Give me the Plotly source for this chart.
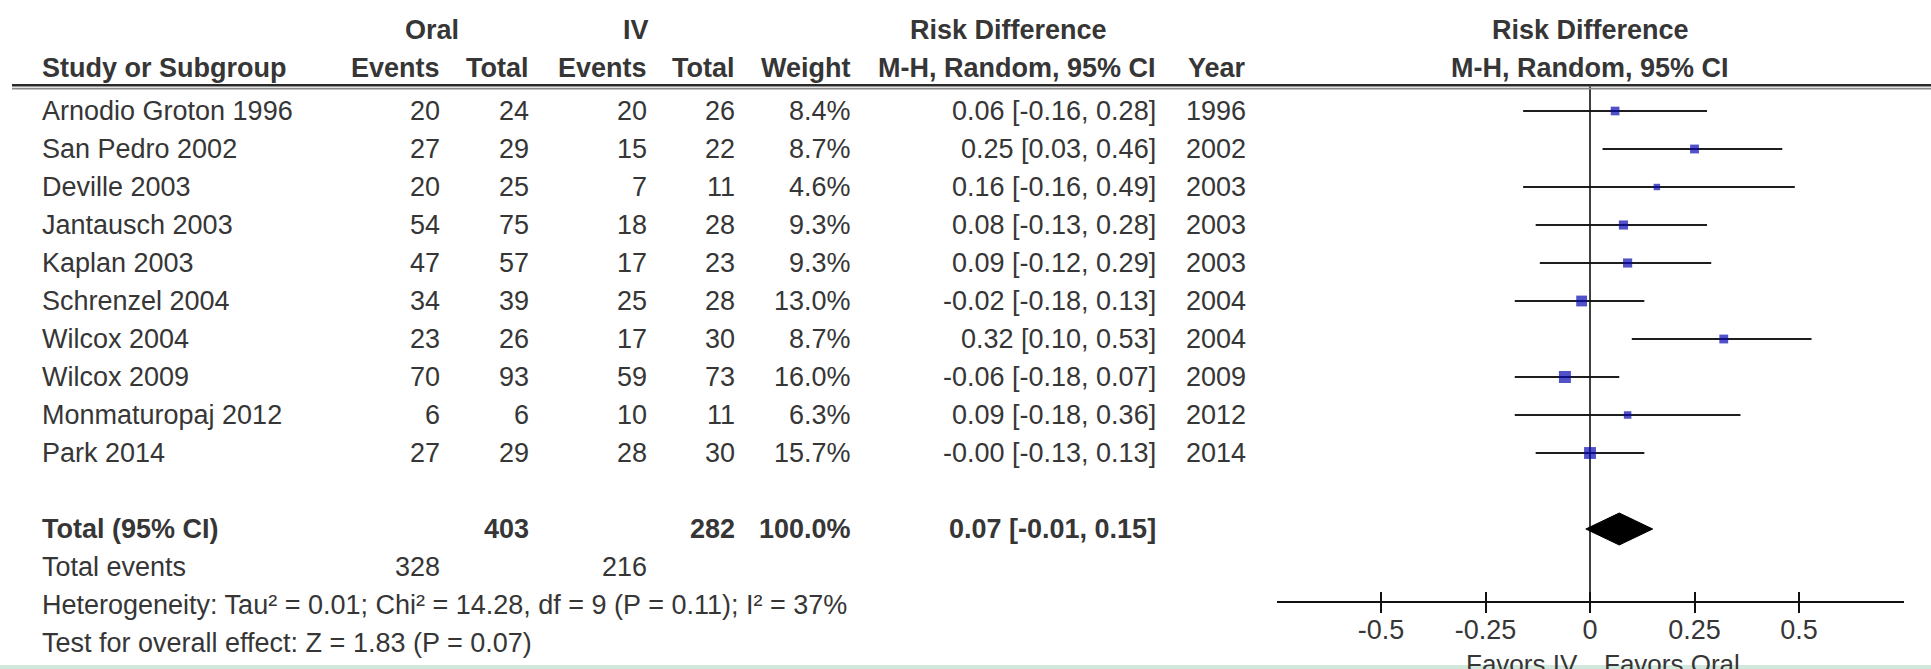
import plotly.graph_objects as go

# ---- study data -------------------------------------------------------------
studies = ["Arnodio Groton 1996", "San Pedro 2002", "Deville 2003", "Jantausch 2003",
           "Kaplan 2003", "Schrenzel 2004", "Wilcox 2004", "Wilcox 2009",
           "Monmaturopaj 2012", "Park 2014"]
oral_events = [20, 27, 20, 54, 47, 34, 23, 70, 6, 27]
oral_total = [24, 29, 25, 75, 57, 39, 26, 93, 6, 29]
iv_events = [20, 15, 7, 18, 17, 25, 17, 59, 10, 28]
iv_total = [26, 22, 11, 28, 23, 28, 30, 73, 11, 30]
weights = [8.4, 8.7, 4.6, 9.3, 9.3, 13.0, 8.7, 16.0, 6.3, 15.7]
risk_diff = [0.06, 0.25, 0.16, 0.08, 0.09, -0.02, 0.32, -0.06, 0.09, -0.00]
ci_low = [-0.16, 0.03, -0.16, -0.13, -0.12, -0.18, 0.10, -0.18, -0.18, -0.13]
ci_high = [0.28, 0.46, 0.49, 0.28, 0.29, 0.13, 0.53, 0.07, 0.36, 0.13]
years = [1996, 2002, 2003, 2003, 2003, 2004, 2004, 2009, 2012, 2014]

# pooled estimate
total_oral, total_iv, total_weight = 403, 282, 100.0
pooled_rd, pooled_low, pooled_high = 0.07, -0.01, 0.15
events_oral, events_iv = 328, 216
heterogeneity = "Heterogeneity: Tau² = 0.01; Chi² = 14.28, df = 9 (P = 0.11); I² = 37%"
overall_effect = "Test for overall effect: Z = 1.83 (P = 0.07)"

tick_vals = [-0.5, -0.25, 0, 0.25, 0.5]
tick_text = ["-0.5", "-0.25", "0", "0.25", "0.5"]

# ---- layout geometry ----------------------------------------------------------
W, H = 1931, 669
ROW0, ROWH = 111.0, 38.0          # pixel centre of first study row, row pitch
def row_of(py):                   # pixel -> row coordinate
    return (py - ROW0) / ROWH

FONT = "Liberation Sans, Arial, sans-serif"
TXT = "#363636"
FS = 27

rows = list(range(len(studies)))
total_row = 11
events_row, het_row, test_row = 12, 13, 14
axis_row = row_of(602)
rule_row = row_of(86.5)

fig = go.Figure()

# confidence-interval whiskers
ci_x, ci_y = [], []
for lo, hi, r in zip(ci_low, ci_high, rows):
    ci_x += [lo, hi, None]
    ci_y += [r, r, None]
fig.add_trace(go.Scatter(x=ci_x, y=ci_y, mode="lines",
                         line=dict(color="#1e1e1e", width=2),
                         hoverinfo="skip", showlegend=False))

# vertical line of no effect
fig.add_trace(go.Scatter(x=[0, 0], y=[rule_row, axis_row], mode="lines",
                         line=dict(color="#111111", width=1.6),
                         hoverinfo="skip", showlegend=False))

# point estimates, square area proportional to weight
fig.add_trace(go.Scatter(x=risk_diff, y=rows, mode="markers",
                         marker=dict(symbol="square", color="#0808b0",
                                     size=[3.0 * w ** 0.5 for w in weights],
                                     line=dict(width=0)),
                         hoverinfo="skip", showlegend=False))

# pooled diamond
dh = 16 / ROWH
fig.add_trace(go.Scatter(x=[pooled_low, pooled_rd, pooled_high, pooled_rd, pooled_low],
                         y=[total_row, total_row - dh, total_row, total_row + dh, total_row],
                         mode="lines", fill="toself", fillcolor="#000000",
                         line=dict(color="#000000", width=1),
                         xaxis="x2", hoverinfo="skip", showlegend=False))

# ---- table text -------------------------------------------------------------
ann = []
def text(px, row, s, anchor="left", bold=False, size=FS):
    ann.append(dict(x=px / W, xref="paper", y=row, yref="y", text=f"<b>{s}</b>" if bold else s,
                    xanchor=anchor, yanchor="middle", showarrow=False,
                    font=dict(family=FONT, size=size, color=TXT)))

X_NAME, X_OE, X_OT, X_IE, X_IT, X_W, X_CI, X_YR = 40, 442, 531, 649, 737, 853, 1158, 1248

# headers
h1, h2 = row_of(30), row_of(68)
text(432, h1, "Oral", "center", True)
text(636, h1, "IV", "center", True)
text(1009, h1, "Risk Difference", "center", True)
text(1590, h1, "Risk Difference", "center", True)
text(X_NAME, h2, "Study or Subgroup", bold=True)
text(X_OE, h2, "Events", "right", True)
text(X_OT, h2, "Total", "right", True)
text(X_IE, h2, "Events", "right", True)
text(X_IT, h2, "Total", "right", True)
text(X_W, h2, "Weight", "right", True)
text(X_CI, h2, "M-H, Random, 95% CI", "right", True)
text(X_YR, h2, "Year", "right", True)
text(1590, h2, "M-H, Random, 95% CI", "center", True)

# study rows
for r, name, oe, ot, ie, it, w, rd, lo, hi, yr in zip(rows, studies, oral_events, oral_total,
                                                     iv_events, iv_total, weights, risk_diff,
                                                     ci_low, ci_high, years):
    text(X_NAME, r, name)
    text(X_OE, r, str(oe), "right")
    text(X_OT, r, str(ot), "right")
    text(X_IE, r, str(ie), "right")
    text(X_IT, r, str(it), "right")
    text(X_W, r, f"{w:.1f}%", "right")
    text(X_CI, r, f"{rd:.2f} [{lo:.2f}, {hi:.2f}]", "right")
    text(X_YR, r, str(yr), "right")

# totals
text(X_NAME, total_row, "Total (95% CI)", bold=True)
text(X_OT, total_row, str(total_oral), "right", True)
text(X_IT, total_row, str(total_iv), "right", True)
text(X_W, total_row, f"{total_weight:.1f}%", "right", True)
text(X_CI, total_row, f"{pooled_rd:.2f} [{pooled_low:.2f}, {pooled_high:.2f}]", "right", True)
text(X_NAME, events_row, "Total events")
text(X_OE, events_row, str(events_oral), "right")
text(X_IE, events_row, str(events_iv), "right")
text(X_NAME, het_row, heterogeneity)
text(X_NAME, test_row, overall_effect)

# favours labels under the axis
text(1580, row_of(664), "Favors IV", "right", size=26)
text(1602, row_of(664), "Favors Oral", "left", size=26)

# ---- axes -------------------------------------------------------------------
x_lo, x_hi = -0.75, 0.75
dom = [1276.5 / W, 1903.5 / W]
axis_pos = 1 - 602 / H

fig.update_layout(
    width=W, height=H,
    margin=dict(l=0, r=0, t=0, b=0),
    paper_bgcolor="white", plot_bgcolor="rgba(0,0,0,0)",
    annotations=ann,
    xaxis=dict(domain=dom, range=[x_lo, x_hi], anchor="free", position=axis_pos,
               showgrid=False, zeroline=False, showline=True, linecolor="#111111", linewidth=2,
               ticks="outside", ticklen=10, tickwidth=2, tickcolor="#111111",
               tickvals=tick_vals, ticktext=tick_text, ticklabelstandoff=-6,
               tickfont=dict(family=FONT, size=27, color=TXT)),
    xaxis2=dict(domain=dom, range=[x_lo, x_hi], matches="x", overlaying="x",
                anchor="free", position=axis_pos,
                showgrid=False, zeroline=False, showline=False,
                ticks="inside", ticklen=10, tickwidth=2, tickcolor="#111111",
                tickvals=tick_vals, showticklabels=False),
    yaxis=dict(domain=[0, 1], range=[row_of(H), row_of(0)], visible=False,
               showgrid=False, zeroline=False),
    shapes=[
        # double rule under the column headings
        dict(type="line", xref="paper", yref="y", x0=12 / W, x1=1, y0=row_of(85.3), y1=row_of(85.3),
             line=dict(color="#2a2a2a", width=2.5)),
        dict(type="line", xref="paper", yref="y", x0=12 / W, x1=1, y0=row_of(88.6), y1=row_of(88.6),
             line=dict(color="#8a8a8a", width=1.8)),
        # thin strip along the bottom edge
        dict(type="rect", xref="paper", yref="paper", x0=0, x1=1, y0=0, y1=4 / H,
             fillcolor="#d3e8dd", line=dict(width=0), layer="above"),
    ],
)

fig.write_html("out.html")
